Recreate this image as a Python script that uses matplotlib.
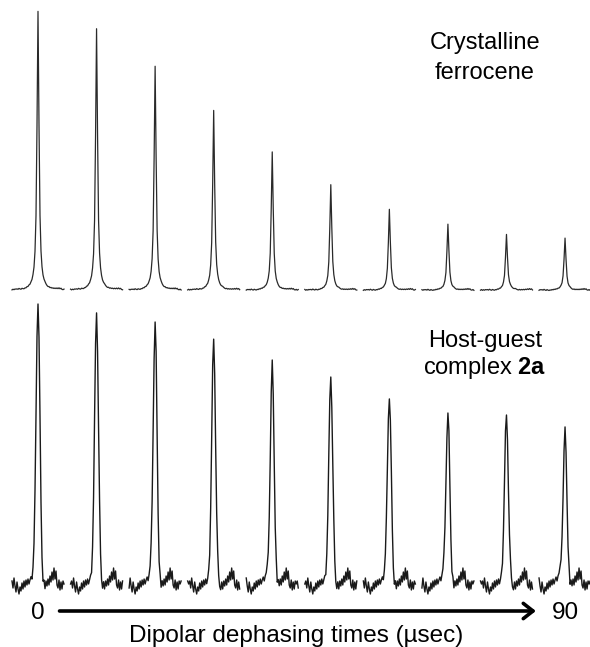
import numpy as np
import matplotlib
matplotlib.use('Agg')
import matplotlib.pyplot as plt

plt.rcParams['font.family'] = ['Liberation Sans', 'DejaVu Sans']
plt.rcParams['mathtext.fontset'] = 'custom'
plt.rcParams['mathtext.rm'] = 'Liberation Sans'
plt.rcParams['mathtext.bf'] = 'Liberation Sans:bold'

# dipolar dephasing times (usec), one spectrum each
times = [0, 10, 20, 30, 40, 50, 60, 70, 80, 90]
# peak heights, normalised to the first spectrum
ferrocene_heights = [1.000, 0.939, 0.802, 0.644, 0.493, 0.378, 0.288, 0.234, 0.198, 0.183]
complex_heights = [1.000, 0.954, 0.925, 0.846, 0.775, 0.725, 0.661, 0.600, 0.575, 0.536]
# baseline noise of the host-guest spectra (in units of 1/280 of full height), 1 pt per px
noise_px = [3, -4, 6, -2, -8, 2, -5, -10, -3, -7, 1, -5, 3, -3, 4, -1, 5, 0, 4, 7,
            3, 8, 10, 13, 8, 4, 0, 3, 7, 1, -4, -6, 2, -5, 3, -2, 5, -1, 8, 2,
            12, 4, 16, 5, 13, -1, -4, 4, -6, 2, -5, 3, 0]
noise_shift = [0, 1, -1, 2, -2, 1, 0, -1, 2, -2]

px_per_unit = 5.856          # horizontal scale: px per usec
offs = np.arange(-26, 27)    # local shift axis of each small spectrum, in px
noise = np.array(noise_px) / 280.0

fig = plt.figure(figsize=(5.9, 6.47), dpi=100)
xlim = (-38 / px_per_unit, (590 - 38) / px_per_unit)

ax_top = fig.add_axes([0, 1 - 300 / 647, 1, 300 / 647])
ax_bot = fig.add_axes([0, 47 / 647, 1, 300 / 647])

for i, t in enumerate(times):
    x = t + offs / px_per_unit
    # crystalline ferrocene: narrow lorentzian lines
    y = ferrocene_heights[i] / (1 + (offs / 1.2) ** 2)
    y = y + 0.08 * np.roll(noise, noise_shift[i] + 5)
    ax_top.plot(x, y, color='#2a2a2a', lw=0.9)
    # host-guest complex: broader lines, noisy baseline
    y2 = complex_heights[i] * np.exp(-0.5 * (offs / 1.9) ** 2)
    y2 = y2 + np.roll(noise, noise_shift[i])
    ax_bot.plot(x, y2, color='#1a1a1a', lw=1.0)

ax_top.set_xlim(xlim)
ax_top.set_ylim(-10 / 278, 290 / 278)
ax_bot.set_xlim(xlim)
ax_bot.set_ylim(-16 / 280, 284 / 280)
ax_top.axis('off')
ax_bot.axis('off')

# panel labels
fig.text(485 / 590, 1 - 49 / 647, 'Crystalline', ha='center', va='baseline', fontsize=17)
fig.text(485 / 590, 1 - 79 / 647, 'ferrocene', ha='center', va='baseline', fontsize=17)
fig.text(485 / 590, 1 - 347 / 647, 'Host-guest', ha='center', va='baseline', fontsize=17)
fig.text(485 / 590, 1 - 374 / 647, r'complex $\mathbf{2a}$', ha='center', va='baseline', fontsize=17)

# time arrow
arrow_y = 1 - 611 / 647
ax_bot.annotate('', xy=(85.5, arrow_y), xytext=(3.2, arrow_y),
                xycoords=('data', 'figure fraction'), textcoords=('data', 'figure fraction'),
                arrowprops=dict(arrowstyle='->,head_length=0.7,head_width=0.55',
                                lw=2.6, color='black', mutation_scale=10),
                annotation_clip=False)
ax_bot.annotate(str(times[0]), xy=(times[0], 1 - 619 / 647), xycoords=('data', 'figure fraction'),
                ha='center', va='baseline', fontsize=17.5, annotation_clip=False)
ax_bot.annotate(str(times[-1]), xy=(times[-1], 1 - 619 / 647), xycoords=('data', 'figure fraction'),
                ha='center', va='baseline', fontsize=17.5, annotation_clip=False)

fig.text(296 / 590, 1 - 642 / 647, 'Dipolar dephasing times (\u00b5sec)',
         ha='center', va='baseline', fontsize=17.5)

fig.savefig('out.png', dpi=100)
